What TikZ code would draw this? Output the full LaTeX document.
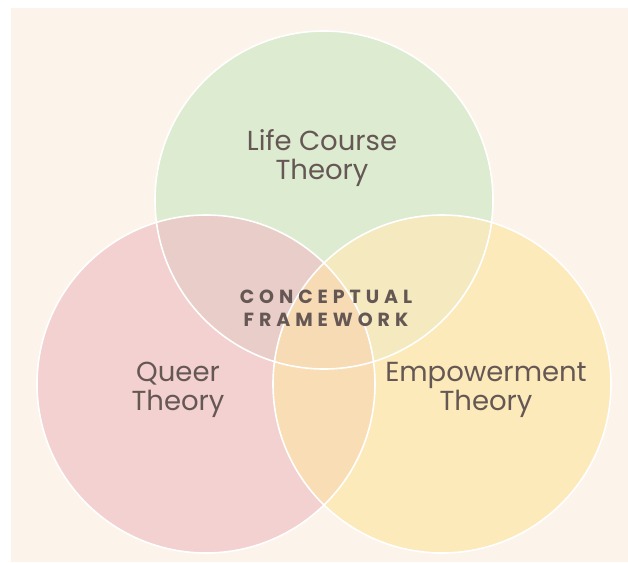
\documentclass[tikz,border=0pt]{standalone}
\usepackage{fontspec}
\setmainfont{Poppins}
\usetikzlibrary{positioning}

\definecolor{bgcream}{HTML}{FCF3EB}
\definecolor{lcgreen}{HTML}{DDEBD1}
\definecolor{qtpink}{HTML}{F2D1D0}
\definecolor{etyellow}{HTML}{FDEABB}
\definecolor{lcqt}{HTML}{E8CDC8}
\definecolor{lcet}{HTML}{F4E9BF}
\definecolor{qtet}{HTML}{F9DDB4}
\definecolor{allthree}{HTML}{F6DBB5}
\definecolor{inktext}{HTML}{655754}

\tikzset{
  venn/.style={circle, minimum size=338pt, inner sep=0pt},
  rim/.style={draw=white, line width=1.6pt},
  theory/.style={text=inktext, align=center, font=\fontsize{27.5}{29}\selectfont},
  core/.style={text=inktext, align=center, font=\fontsize{19}{23}\selectfont\bfseries\addfontfeatures{LetterSpace=26}},
}

\begin{document}
\begin{tikzpicture}[x=1pt, y=-1pt]
  \def\r{169} % radius of every circle

  % --- PAGE ---
  \useasboundingbox (0,0) rectangle (628,562);
  \fill[white] (0,0) rectangle (628,562);
  \fill[bgcream] (11,8) rectangle (628,562);

  % --- CIRCLES ---
  \node[venn, fill=lcgreen] (lc) at (324,200) {};
  \node[venn, fill=qtpink] (qt) at (206,384) {};
  \node[venn, fill=etyellow] (et) at (442,384) {};

  % --- OVERLAPS ---
  \begin{scope}
    \clip (lc.center) circle (\r);
    \fill[lcqt] (qt.center) circle (\r);
    \fill[lcet] (et.center) circle (\r);
  \end{scope}
  \begin{scope}
    \clip (qt.center) circle (\r);
    \fill[qtet] (et.center) circle (\r);
    \clip (et.center) circle (\r);
    \fill[allthree] (lc.center) circle (\r);
  \end{scope}

  % --- OUTLINES ---
  \foreach \c in {lc, qt, et}
    \draw[rim] (\c.center) circle (\r);

  % --- LABELS ---
  \node[theory] (lctext) at (322,158) {Life Course\\Theory};
  \node[theory] (qttext) at (178,390) {Queer\\Theory};
  \node[theory] (ettext) at (486,390) {Empowerment\\Theory};
  \node[core] (cftext) at (326,308) {CONCEPTUAL\\FRAMEWORK};

\end{tikzpicture}
\end{document}
